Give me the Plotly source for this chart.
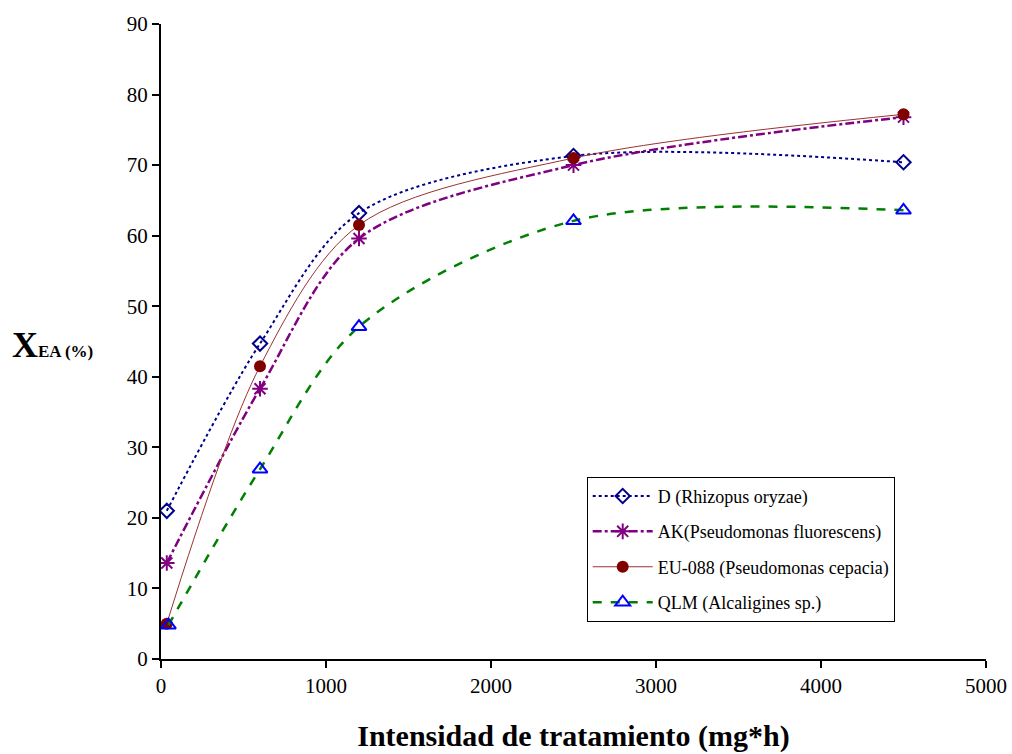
import plotly.graph_objects as go

x_d = [35, 600, 1200, 2500, 4500]
y_d = [21.0, 44.7, 63.2, 71.3, 70.4]
x_ak = [35, 600, 1200, 2500, 4500]
y_ak = [13.6, 38.3, 59.6, 70.0, 76.8]
x_eu = [35, 600, 1200, 2500, 4500]
y_eu = [5.0, 41.5, 61.5, 71.0, 77.2]
x_qlm = [45, 600, 1200, 2500, 4500]
y_qlm = [4.8, 26.9, 47.1, 62.1, 63.6]

names = ["D (Rhizopus oryzae)", "AK(Pseudomonas fluorescens)",
         "EU-088 (Pseudomonas cepacia)", "QLM (Alcaligines sp.)"]

fig = go.Figure()
fig.add_trace(go.Scatter(
    x=x_d, y=y_d, name=names[0], mode="lines+markers", legendgroup="a",
    line=dict(color="#00008B", width=2, dash="dot", shape="spline", smoothing=0.9),
    marker=dict(symbol="diamond-open", size=11, color="#00008B", line=dict(width=2))))
fig.add_trace(go.Scatter(
    x=x_ak, y=y_ak, name=names[1], mode="lines+markers", legendgroup="b",
    line=dict(color="#800080", width=2.5, dash="dashdot", shape="spline", smoothing=0.9),
    marker=dict(symbol="asterisk-open", size=13, color="#800080", line=dict(width=2, color="#800080"))))
fig.add_trace(go.Scatter(
    x=x_eu, y=y_eu, name=names[2], mode="lines+markers", legendgroup="c",
    line=dict(color="#993333", width=1, shape="spline", smoothing=0.9),
    marker=dict(symbol="circle", size=12, color="#800000")))
fig.add_trace(go.Scatter(
    x=x_qlm, y=y_qlm, name=names[3], mode="lines+markers", legendgroup="d",
    line=dict(color="#008000", width=2.5, dash="dash", shape="spline", smoothing=0.9),
    marker=dict(symbol="triangle-up-open", size=13, color="#0000FF", line=dict(width=2))))

serif = "Liberation Serif, Times New Roman, serif"
fig.update_layout(
    width=1012, height=754,
    margin=dict(l=161, r=26, t=24, b=95),
    plot_bgcolor="white", paper_bgcolor="white",
    font=dict(family=serif, color="black", size=21),
    showlegend=True,
    legend=dict(x=0.516, y=0.287, xanchor="left", yanchor="top",
                bordercolor="black", borderwidth=1, bgcolor="white",
                font=dict(family=serif, size=18, color="black"),
                itemwidth=60, tracegroupgap=9),
    xaxis=dict(range=[0, 5000], tickvals=[0, 1000, 2000, 3000, 4000, 5000],
               automargin=False,
               showgrid=False, zeroline=False, showline=True, linecolor="black", linewidth=2,
               ticks="outside", ticklen=7, tickwidth=2, tickcolor="black",
               tickfont=dict(size=21, family=serif),
               title=dict(text="<b>Intensidad de tratamiento (mg*h)</b>",
                          font=dict(size=30, family=serif), standoff=28)),
    yaxis=dict(range=[0, 90], tickvals=list(range(0, 91, 10)),
               automargin=False,
               showgrid=False, zeroline=False, showline=True, linecolor="black", linewidth=2,
               ticks="outside", ticklen=7, tickwidth=2, tickcolor="black",
               tickfont=dict(size=21, family=serif)),
)
fig.add_annotation(
    xref="paper", yref="paper", x=-0.183, y=0.495, xanchor="left", yanchor="middle",
    showarrow=False,
    text="<b><span style='font-size:36px'>X</span><span style='font-size:17px'>EA (%)</span></b>",
    font=dict(family=serif, color="black"))

fig.write_html("out.html", config={"displayModeBar": False},
               post_script="document.body.style.margin='0';document.body.style.overflow='hidden';")
